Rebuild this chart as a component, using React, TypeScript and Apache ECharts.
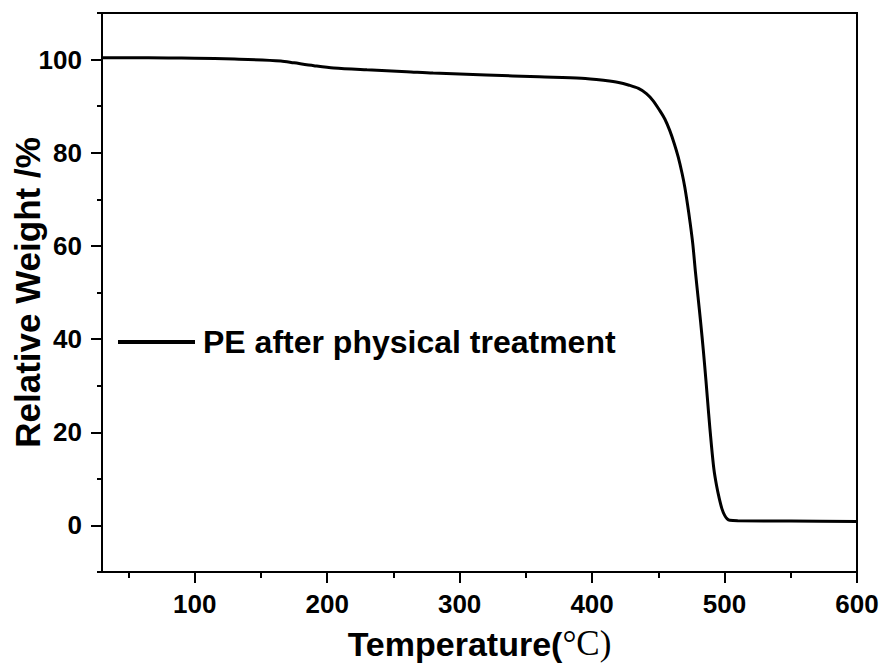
import React, { useEffect, useRef } from "react";
import * as echarts from "echarts";

const temperature = [30, 50, 80, 100, 130, 165, 175, 190, 205, 230, 260, 280, 320, 360, 392, 410, 420, 428, 435, 441, 446, 451, 455, 458.6, 462, 465, 468, 470, 472, 474, 476, 478, 480, 482, 484, 486, 488, 490, 492, 494, 496, 498, 500, 502, 504, 510, 550, 600];
const weight = [100.4, 100.4, 100.35, 100.3, 100.1, 99.7, 99.3, 98.7, 98.2, 97.8, 97.4, 97.1, 96.7, 96.3, 96.0, 95.5, 95.1, 94.5, 93.8, 92.7, 91.2, 89.1, 87.2, 84.8, 82, 79.1, 75.5, 72.6, 69, 65, 60.5, 54.5, 49, 43.5, 37.5, 31, 24, 17.5, 12, 8.5, 5.8, 3.6, 2.2, 1.4, 1.1, 1.0, 0.95, 0.85];

const xMajorTicks = [100, 200, 300, 400, 500, 600];
const xMinorTicks = [50, 150, 250, 350, 450, 550];
const yMajorTicks = [0, 20, 40, 60, 80, 100];
const yMinorTicks = [-10, 10, 30, 50, 70, 90, 110];

const seriesName = "PE after physical treatment";
const xTitle = "Temperature(";
const xTitleUnit = "°C)";
const yTitle = "Relative Weight /%";

const FONT = "'Liberation Sans', Arial, sans-serif";

export default function App() {
  const ref = useRef<HTMLDivElement>(null);
  useEffect(() => {
    if (!ref.current) return;
    const chart = echarts.init(ref.current, null, { renderer: "svg" });
    const data = temperature.map((t, i) => [t, weight[i]]);
    const axisLine = { show: true, onZero: false, lineStyle: { color: "#000", width: 2 } };
    chart.setOption({
      animation: false,
      backgroundColor: "#fff",
      grid: {
        left: 102,
        right: 27,
        top: 13,
        bottom: 96,
        containLabel: false,
        outerBoundsMode: "none",
        show: true,
        borderColor: "#000",
        borderWidth: 2,
      },
      legend: {
        show: true,
        left: 113,
        top: 321,
        itemWidth: 77,
        itemHeight: 4,
        icon: "rect",
        data: [seriesName],
        itemStyle: { color: "#000" },
        lineStyle: { width: 4, color: "#000" },
        textStyle: {
          fontFamily: FONT,
          fontWeight: "bold",
          fontSize: 32,
          color: "#000",
          padding: [0, 0, 0, 3],
        },
      },
      xAxis: [
        {
          type: "value",
          min: 30,
          max: 600,
          position: "bottom",
          splitLine: { show: false },
          axisLine,
          axisTick: {
            show: true,
            inside: false,
            length: 11,
            lineStyle: { color: "#000", width: 2 },
            customValues: xMajorTicks,
          },
          axisLabel: {
            customValues: xMajorTicks,
            margin: 19,
            fontFamily: FONT,
            fontWeight: "bold",
            fontSize: 26,
            color: "#000",
          },
          name: `{a|${xTitle}}{b|${xTitleUnit}}`,
          nameLocation: "middle",
          nameGap: 54,
          nameTextStyle: {
            rich: {
              a: { fontFamily: FONT, fontWeight: "bold", fontSize: 34, color: "#000" },
              b: { fontFamily: "'Liberation Serif', 'Times New Roman', serif", fontSize: 35, color: "#000" },
            },
          },
        },
        {
          type: "value",
          min: 30,
          max: 600,
          position: "bottom",
          offset: 0,
          splitLine: { show: false },
          axisLine: { show: false, onZero: false },
          axisTick: {
            show: true,
            inside: false,
            length: 6,
            lineStyle: { color: "#000", width: 2 },
            customValues: xMinorTicks,
          },
          axisLabel: { show: false },
        },
      ],
      yAxis: [
        {
          type: "value",
          min: -10,
          max: 110,
          position: "left",
          splitLine: { show: false },
          axisLine,
          axisTick: {
            show: true,
            inside: false,
            length: 11,
            lineStyle: { color: "#000", width: 2 },
            customValues: yMajorTicks,
          },
          axisLabel: {
            customValues: yMajorTicks,
            margin: 20,
            fontFamily: FONT,
            fontWeight: "bold",
            fontSize: 26,
            color: "#000",
          },
          name: yTitle,
          nameLocation: "middle",
          nameGap: 57,
          nameMoveOverlap: false,
          nameTextStyle: {
            fontFamily: FONT,
            fontWeight: "bold",
            fontSize: 35,
            color: "#000",
          },
        },
        {
          type: "value",
          min: -10,
          max: 110,
          position: "left",
          offset: 0,
          splitLine: { show: false },
          axisLine: { show: false, onZero: false },
          axisTick: {
            show: true,
            inside: false,
            length: 5,
            lineStyle: { color: "#000", width: 2 },
            customValues: yMinorTicks,
          },
          axisLabel: { show: false },
        },
      ],
      series: [
        {
          name: seriesName,
          type: "line",
          xAxisIndex: 0,
          yAxisIndex: 0,
          data,
          smooth: 0.3,
          symbol: "none",
          showSymbol: false,
          lineStyle: { color: "#000", width: 3 },
          itemStyle: { color: "#000" },
        },
      ],
    });
    return () => chart.dispose();
  }, []);
  return <div ref={ref} style={{ width: 884, height: 668, position: "absolute", left: 0, top: 0 }} />;
}
